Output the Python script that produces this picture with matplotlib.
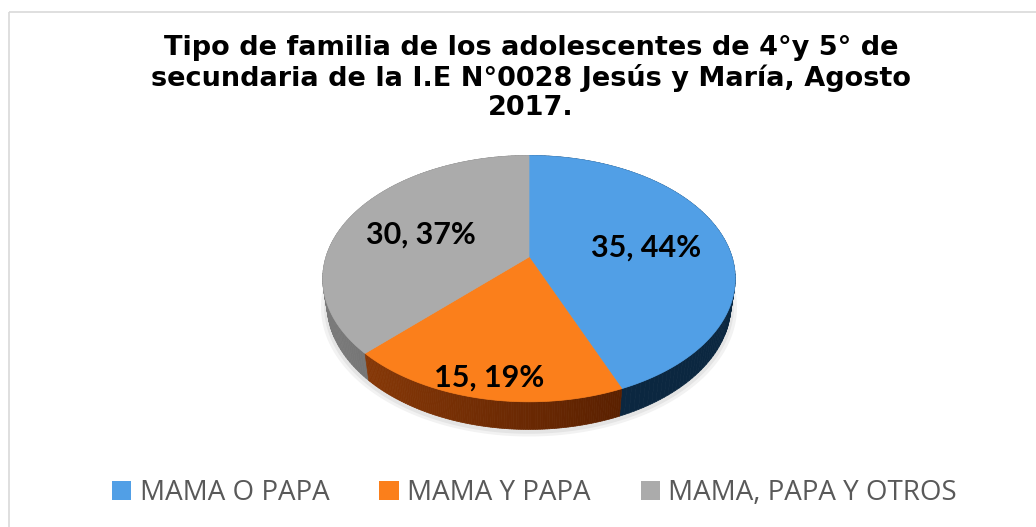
import numpy as np
import matplotlib.pyplot as plt
from matplotlib.patches import Polygon, Rectangle, Patch
from matplotlib.collections import PolyCollection
from matplotlib.colors import to_rgb

# datos del grafico
categories = ["MAMA O PAPA", "MAMA Y PAPA", "MAMA, PAPA Y OTROS"]
counts = [35, 15, 30]
pct_labels = ["44%", "19%", "37%"]
title_lines = ["Tipo de familia de los adolescentes de 4°y 5° de",
               "secundaria de la I.E N°0028 Jesús y María, Agosto",
               "2017."]

top_colors = ["#519FE6", "#FB7F1B", "#ABABAB"]
side_light = ["#12375A", "#8E3C08", "#7A7A7A"]
side_dark = ["#0B2740", "#5A2000", "#5E5E5E"]

# "camara" del pie 3d (tipo excel)
elev = np.radians(36)
dist = 4.6
thick = 0.16
scale = 934
cx, cy = 529, 257


def project(x, y, z):
    c, s = np.cos(elev), np.sin(elev)
    qy = y - dist * c
    qz = z - dist * s
    depth = -qy * c - qz * s
    sx = x / depth
    sy = (-qy * s + qz * c) / depth
    return cx + scale * sx, cy - scale * sy


fig = plt.figure(figsize=(10.36, 5.27), dpi=100)
ax = fig.add_axes([0, 0, 1, 1])
ax.set_xlim(0, 1036)
ax.set_ylim(527, 0)
ax.axis('off')

ax.add_patch(Rectangle((8.5, 11.5), 1100, 600, fill=False,
                       edgecolor='#D9D9D9', lw=1.2))

total = float(sum(counts))
bounds = np.concatenate([[0], np.cumsum(counts)]) / total * 2 * np.pi

# sombra suave debajo
ring = np.linspace(0, 2 * np.pi, 300)
for r, col in [(1.03, '#F2F2F2'), (1.015, '#E4E4E4')]:
    sh = [project(r * np.sin(p), -r * np.cos(p), -thick - 0.01) for p in ring]
    ax.add_patch(Polygon(sh, closed=True, facecolor=col, edgecolor='none'))

# paredes laterales
quads = []
qcols = []
qdepth = []
for i in range(len(counts)):
    phis = np.linspace(bounds[i], bounds[i + 1], 120)
    for a, b in zip(phis[:-1], phis[1:]):
        xa, ya = np.sin(a), -np.cos(a)
        xb, yb = np.sin(b), -np.cos(b)
        p1 = project(xa, ya, 0)
        p2 = project(xb, yb, 0)
        p3 = project(xb, yb, -thick)
        p4 = project(xa, ya, -thick)
        quads.append([p1, p2, p3, p4])
        t = np.clip((xa + 0.9) / 1.3, 0, 1)
        col = (1 - t) * np.array(to_rgb(side_light[i])) + t * np.array(to_rgb(side_dark[i]))
        qcols.append(col)
        qdepth.append(ya + yb)

order = np.argsort(qdepth)
ax.add_collection(PolyCollection([quads[k] for k in order],
                                 facecolors=[qcols[k] for k in order],
                                 edgecolors=[qcols[k] for k in order], lw=0.5))

# caras superiores
for i in range(len(counts)):
    phis = np.linspace(bounds[i], bounds[i + 1], 200)
    pts = [project(0, 0, 0)] + [project(np.sin(p), -np.cos(p), 0) for p in phis]
    ax.add_patch(Polygon(pts, closed=True, facecolor=top_colors[i],
                         edgecolor=top_colors[i], lw=0.5))

# etiquetas
label_r = [0.6, 0.85, 0.6]
for i in range(len(counts)):
    mid = (bounds[i] + bounds[i + 1]) / 2
    lx, ly = project(label_r[i] * np.sin(mid), -label_r[i] * np.cos(mid), 0)
    ax.text(lx, ly + 4, f"{counts[i]}, {pct_labels[i]}", ha='center', va='center',
            fontsize=22, fontweight='bold', family='Lato', color='black')

ax.text(531, 78, "\n".join(title_lines), ha='center', va='center',
        fontsize=19.5, fontweight='bold', family='DejaVu Sans',
        linespacing=1.12)

handles = [Patch(facecolor=c, edgecolor='none') for c in top_colors]
leg = ax.legend(handles, categories, loc='center', bbox_to_anchor=(0.516, 0.064),
                ncol=3, frameon=False, prop={'family': 'Open Sans', 'size': 20},
                handlelength=0.7, handleheight=0.7, handletextpad=0.3,
                columnspacing=1.8, labelcolor='#595959')

fig.savefig("out.png", dpi=100, facecolor='white')
